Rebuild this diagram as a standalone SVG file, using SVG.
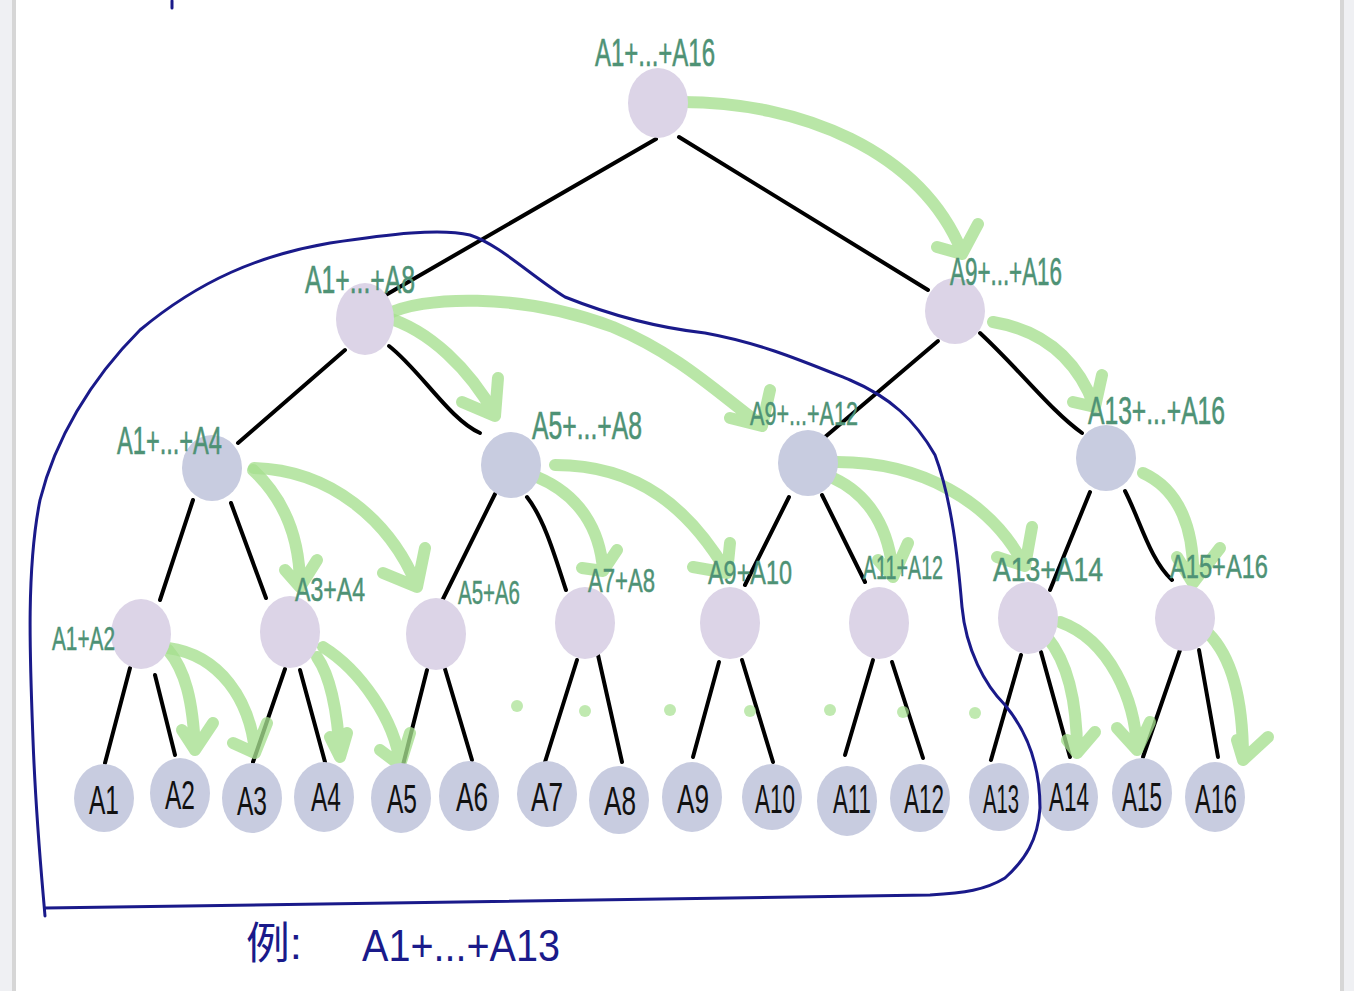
<svg xmlns="http://www.w3.org/2000/svg" width="1354" height="991" viewBox="0 0 1354 991">
<defs>
<style>
.bg{fill:#ffffff}
.side{fill:#eff0f3}
.bord{fill:#d6d6d6}
.lav{fill:#dcd4e7}
.gry{fill:#c8cce0}
.edge{stroke:#000;stroke-width:4;stroke-linecap:round;fill:none}
.arr{stroke:#a5df8e;stroke-opacity:0.78;stroke-width:12;stroke-linecap:round;stroke-linejoin:round;fill:none}
.dot{fill:#a5df8e;fill-opacity:0.7}
.lbl{font-family:"Liberation Sans",Arial,sans-serif;font-size:38px;fill:#4e9275;stroke:#4e9275;stroke-width:0.6}
.lbs{font-family:"Liberation Sans",Arial,sans-serif;font-size:34px;fill:#4e9275;stroke:#4e9275;stroke-width:0.5}
.leaf{font-family:"Liberation Sans",Arial,sans-serif;font-size:40px;fill:#111;text-anchor:middle}
.blue{stroke:#1a1a8a;stroke-width:3;fill:none;stroke-linecap:round;stroke-linejoin:round}
.btxt{font-family:"Liberation Sans","Noto Sans CJK SC",sans-serif;font-size:44px;fill:#1a1a8a}
</style>
</defs>
<rect class="bg" x="0" y="0" width="1354" height="991"/>
<rect class="side" x="0" y="0" width="12" height="991"/>
<rect class="bord" x="12" y="0" width="4" height="991"/>
<rect class="bord" x="1340" y="0" width="4" height="991"/>
<rect class="side" x="1344" y="0" width="10" height="991"/>
<path class="blue" d="M172,1 L172,8"/>

<g id="connectors">
<path class="edge" d="M656,139 L384,296"/>
<path class="edge" d="M679,137 L928,290"/>
<path class="edge" d="M345,350 L238,443"/>
<path class="edge" d="M389,346 C420,370 450,420 480,433"/>
<path class="edge" d="M938,341 L825,437"/>
<path class="edge" d="M980,333 C1020,370 1050,410 1082,433"/>
<path class="edge" d="M193,500 L160,600"/>
<path class="edge" d="M231,503 L266,598"/>
<path class="edge" d="M495,494 L441,603"/>
<path class="edge" d="M527,497 C545,520 556,560 566,590"/>
<path class="edge" d="M789,497 L745,585"/>
<path class="edge" d="M822,495 L865,582"/>
<path class="edge" d="M1090,492 L1050,590"/>
<path class="edge" d="M1125,491 C1140,520 1150,560 1172,580"/>
<path class="edge" d="M130,668 L105,763"/>
<path class="edge" d="M155,675 L175,755"/>
<path class="edge" d="M285,669 L253,762"/>
<path class="edge" d="M300,670 L325,762"/>
<path class="edge" d="M427,670 L403,765"/>
<path class="edge" d="M445,669 L472,760"/>
<path class="edge" d="M577,660 L545,762"/>
<path class="edge" d="M598,655 L622,762"/>
<path class="edge" d="M719,662 L693,757"/>
<path class="edge" d="M742,660 L773,762"/>
<path class="edge" d="M873,660 L845,755"/>
<path class="edge" d="M892,662 L923,758"/>
<path class="edge" d="M1021,655 L991,760"/>
<path class="edge" d="M1041,652 L1070,757"/>
<path class="edge" d="M1180,650 L1143,757"/>
<path class="edge" d="M1199,650 L1218,757"/>

<path class="arr" d="M682,102 C800,102 920,150 962,252 M937,247 L962,254 L978,224"/>
<path class="arr" d="M385,317 C430,330 470,370 495,415 M462,402 L495,416 L498,378"/>
<path class="arr" d="M386,315 C420,296 520,292 613,327 C680,355 720,395 760,424 M730,418 L762,426 L770,390"/>
<path class="arr" d="M993,322 C1040,330 1075,355 1094,405 M1073,402 L1095,407 L1102,375"/>
<path class="arr" d="M1143,473 C1180,490 1195,530 1193,582 M1177,557 L1193,583 L1220,548"/>
<path class="arr" d="M253,470 C285,500 300,540 300,586 M285,570 L300,587 L317,560"/>
<path class="arr" d="M254,468 C330,470 390,520 417,586 M383,573 L417,587 L425,548"/>
<path class="arr" d="M537,477 C580,495 600,530 603,570 M582,568 L603,571 L617,550"/>
<path class="arr" d="M555,465 C640,465 690,510 727,572 M693,567 L727,573 L730,543"/>
<path class="arr" d="M833,478 C870,495 890,530 893,576 M878,560 L893,577 L908,543"/>
<path class="arr" d="M837,462 C920,462 990,500 1024,565 M997,557 L1025,566 L1032,527"/>
<path class="arr" d="M168,650 C185,670 193,700 195,750 M182,730 L195,750 L213,723"/>
<path class="arr" d="M168,648 C220,655 250,700 255,752 M233,743 L255,753 L267,723"/>
<path class="arr" d="M317,657 C333,680 338,720 340,756 M330,737 L340,757 L347,733"/>
<path class="arr" d="M323,647 C360,670 395,720 400,764 M380,750 L400,765 L410,733"/>
<path class="arr" d="M1047,637 C1070,665 1077,710 1077,752 M1067,740 L1077,753 L1095,732"/>
<path class="arr" d="M1060,622 C1110,640 1135,700 1137,749 M1117,728 L1137,750 L1150,722"/>
<path class="arr" d="M1208,633 C1235,660 1243,710 1243,758 M1237,740 L1243,760 L1268,737"/>
<circle class="dot" cx="517" cy="706" r="6"/>
<circle class="dot" cx="585" cy="711" r="6"/>
<circle class="dot" cx="670" cy="710" r="6"/>
<circle class="dot" cx="750" cy="711" r="6"/>
<circle class="dot" cx="830" cy="710" r="6"/>
<circle class="dot" cx="903" cy="712" r="6"/>
<circle class="dot" cx="975" cy="713" r="6"/>
</g>

<g id="root"><ellipse class="lav" cx="658" cy="103" rx="30" ry="35"/><text class="lbl" x="595" y="66" textLength="120" lengthAdjust="spacingAndGlyphs">A1+...+A16</text></g>
<g id="n1-8"><ellipse class="lav" cx="365" cy="319" rx="29" ry="36"/><text class="lbl" x="305" y="293" textLength="110" lengthAdjust="spacingAndGlyphs">A1+...+A8</text></g>
<g id="n9-16"><ellipse class="lav" cx="955" cy="311" rx="30" ry="33"/><text class="lbl" x="950" y="285" textLength="112" lengthAdjust="spacingAndGlyphs">A9+...+A16</text></g>
<g id="n1-4"><ellipse class="gry" cx="212" cy="468" rx="30" ry="33"/><text class="lbl" x="117" y="454" textLength="105" lengthAdjust="spacingAndGlyphs">A1+...+A4</text></g>
<g id="n5-8"><ellipse class="gry" cx="511" cy="465" rx="30" ry="33"/><text class="lbl" x="532" y="439" textLength="110" lengthAdjust="spacingAndGlyphs">A5+...+A8</text></g>
<g id="n9-12"><ellipse class="gry" cx="808" cy="463" rx="30" ry="33"/><text class="lbs" x="750" y="425" textLength="108" lengthAdjust="spacingAndGlyphs">A9+...+A12</text></g>
<g id="n13-16"><ellipse class="gry" cx="1106" cy="458" rx="30" ry="33"/><text class="lbl" x="1088" y="424" textLength="137" lengthAdjust="spacingAndGlyphs">A13+...+A16</text></g>
<g id="n1-2"><ellipse class="lav" cx="141" cy="634" rx="30" ry="35"/><text class="lbs" x="52" y="650" textLength="63" lengthAdjust="spacingAndGlyphs">A1+A2</text></g>
<g id="n3-4"><ellipse class="lav" cx="290" cy="632" rx="30" ry="36"/><text class="lbs" x="295" y="601" textLength="70" lengthAdjust="spacingAndGlyphs">A3+A4</text></g>
<g id="n5-6"><ellipse class="lav" cx="436" cy="634" rx="30" ry="36"/><text class="lbs" x="458" y="604" textLength="62" lengthAdjust="spacingAndGlyphs">A5+A6</text></g>
<g id="n7-8"><ellipse class="lav" cx="585" cy="623" rx="30" ry="36"/><text class="lbs" x="588" y="592" textLength="67" lengthAdjust="spacingAndGlyphs">A7+A8</text></g>
<g id="n9-10"><ellipse class="lav" cx="730" cy="623" rx="30" ry="36"/><text class="lbs" x="708" y="584" textLength="84" lengthAdjust="spacingAndGlyphs">A9+A10</text></g>
<g id="n11-12"><ellipse class="lav" cx="879" cy="623" rx="30" ry="36"/><text class="lbs" x="863" y="579" textLength="80" lengthAdjust="spacingAndGlyphs">A11+A12</text></g>
<g id="n13-14"><ellipse class="lav" cx="1028" cy="618" rx="30" ry="36"/><text class="lbs" x="993" y="581" textLength="110" lengthAdjust="spacingAndGlyphs">A13+A14</text></g>
<g id="n15-16"><ellipse class="lav" cx="1185" cy="618" rx="30" ry="33"/><text class="lbs" x="1170" y="578" textLength="98" lengthAdjust="spacingAndGlyphs">A15+A16</text></g>

<g id="leaf1"><ellipse class="gry" cx="104" cy="798" rx="30" ry="34"/><text class="leaf" x="104" y="814" textLength="30" lengthAdjust="spacingAndGlyphs">A1</text></g>
<g id="leaf2"><ellipse class="gry" cx="180" cy="793" rx="30" ry="35"/><text class="leaf" x="180" y="809" textLength="30" lengthAdjust="spacingAndGlyphs">A2</text></g>
<g id="leaf3"><ellipse class="gry" cx="252" cy="798" rx="30" ry="35"/><text class="leaf" x="252" y="815" textLength="30" lengthAdjust="spacingAndGlyphs">A3</text></g>
<g id="leaf4"><ellipse class="gry" cx="324" cy="797" rx="30" ry="35"/><text class="leaf" x="326" y="811" textLength="30" lengthAdjust="spacingAndGlyphs">A4</text></g>
<g id="leaf5"><ellipse class="gry" cx="401" cy="798" rx="30" ry="35"/><text class="leaf" x="402" y="813" textLength="30" lengthAdjust="spacingAndGlyphs">A5</text></g>
<g id="leaf6"><ellipse class="gry" cx="469" cy="796" rx="30" ry="35"/><text class="leaf" x="472" y="811" textLength="32" lengthAdjust="spacingAndGlyphs">A6</text></g>
<g id="leaf7"><ellipse class="gry" cx="547" cy="794" rx="30" ry="33"/><text class="leaf" x="547" y="811" textLength="32" lengthAdjust="spacingAndGlyphs">A7</text></g>
<g id="leaf8"><ellipse class="gry" cx="619" cy="800" rx="30" ry="34"/><text class="leaf" x="620" y="815" textLength="32" lengthAdjust="spacingAndGlyphs">A8</text></g>
<g id="leaf9"><ellipse class="gry" cx="692" cy="797" rx="30" ry="35"/><text class="leaf" x="693" y="813" textLength="32" lengthAdjust="spacingAndGlyphs">A9</text></g>
<g id="leaf10"><ellipse class="gry" cx="772" cy="797" rx="30" ry="33"/><text class="leaf" x="775" y="813" textLength="40" lengthAdjust="spacingAndGlyphs">A10</text></g>
<g id="leaf11"><ellipse class="gry" cx="847" cy="801" rx="30" ry="35"/><text class="leaf" x="852" y="813" textLength="38" lengthAdjust="spacingAndGlyphs">A11</text></g>
<g id="leaf12"><ellipse class="gry" cx="920" cy="798" rx="30" ry="34"/><text class="leaf" x="924" y="813" textLength="40" lengthAdjust="spacingAndGlyphs">A12</text></g>
<g id="leaf13"><ellipse class="gry" cx="999" cy="797" rx="30" ry="34"/><text class="leaf" x="1001" y="813" textLength="36" lengthAdjust="spacingAndGlyphs">A13</text></g>
<g id="leaf14"><ellipse class="gry" cx="1068" cy="797" rx="30" ry="34"/><text class="leaf" x="1069" y="811" textLength="40" lengthAdjust="spacingAndGlyphs">A14</text></g>
<g id="leaf15"><ellipse class="gry" cx="1142" cy="793" rx="30" ry="35"/><text class="leaf" x="1142" y="811" textLength="40" lengthAdjust="spacingAndGlyphs">A15</text></g>
<g id="leaf16"><ellipse class="gry" cx="1215" cy="797" rx="30" ry="35"/><text class="leaf" x="1216" y="813" textLength="42" lengthAdjust="spacingAndGlyphs">A16</text></g>

<g id="example">
<path class="blue" d="M45,916 C42,880 36,820 33,740 C30,660 26,570 40,500 C55,440 90,380 140,330 C200,280 260,255 330,243 C390,234 440,228 470,235 C500,245 530,275 565,297 C610,315 660,328 705,333 C760,343 800,360 850,380 C890,397 915,420 935,455 C952,500 958,560 962,607 C966,650 985,685 1005,705 C1030,735 1040,770 1040,808 C1038,840 1025,860 1005,878 C985,890 965,893 930,895 C700,898 300,905 45,908"/>
<text class="btxt" x="246" y="959" textLength="56" lengthAdjust="spacingAndGlyphs">例:</text>
<text class="btxt" x="362" y="961" textLength="198" lengthAdjust="spacingAndGlyphs">A1+...+A13</text>
</g>
</svg>
